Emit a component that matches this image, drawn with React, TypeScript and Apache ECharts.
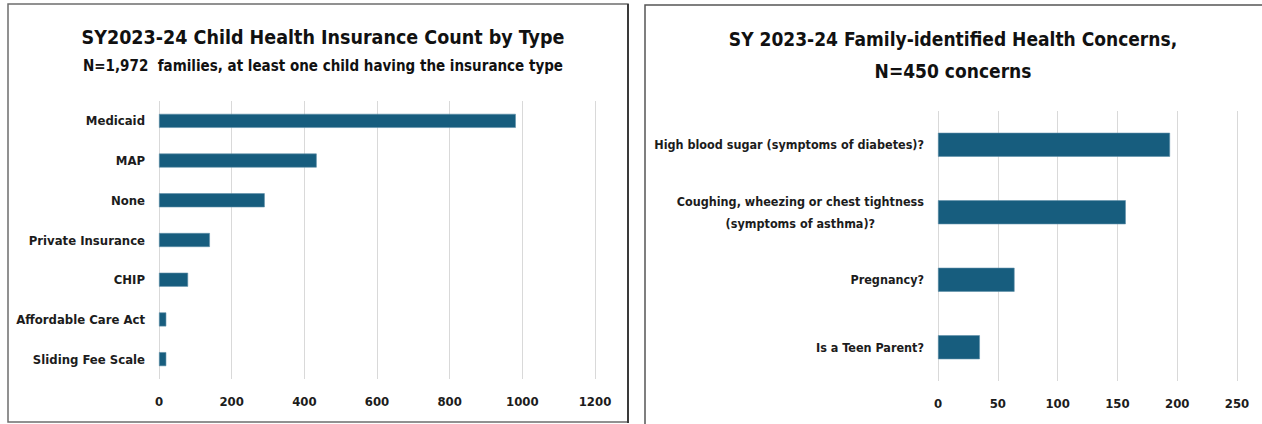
import React, { useEffect, useRef } from "react";
import * as echarts from "echarts";

const insuranceTypes = [
  "Medicaid",
  "MAP",
  "None",
  "Private Insurance",
  "CHIP",
  "Affordable Care Act",
  "Sliding Fee Scale",
];
const insuranceCounts = [982, 434, 291, 140, 80, 20, 20];
const insuranceTicks = [0, 200, 400, 600, 800, 1000, 1200];

const concernTypes = [
  "High blood sugar (symptoms of diabetes)?",
  "Coughing, wheezing or chest tightness\n(symptoms of asthma)?",
  "Pregnancy?",
  "Is a Teen Parent?",
];
const concernCounts = [194, 157, 64, 35];
const concernTicks = [0, 50, 100, 150, 200, 250];

const FONT = "'DejaVu Sans Condensed', 'Liberation Sans Narrow', 'Roboto', sans-serif";
const BAR = "#175d7e";
const TXT = "#1c1c1c";

export default function App() {
  const ref = useRef<HTMLDivElement>(null);
  useEffect(() => {
    if (!ref.current) return;
    const chart = echarts.init(ref.current, undefined, { renderer: "svg" });
    const labelStyle = {
      color: TXT,
      fontFamily: FONT,
      fontWeight: "bold" as const,
      fontSize: 13,
    };
    chart.setOption({
      animation: false,
      backgroundColor: "#ffffff",
      title: [
        {
          text: "SY2023-24 Child Health Insurance Count by Type",
          subtext: "N=1,972  families, at least one child having the insurance type",
          left: 318,
          top: 22,
          textAlign: "center",
          itemGap: 11,
          textStyle: { fontFamily: FONT, fontWeight: "bold", fontSize: 19.5, color: "#111" },
          subtextStyle: { fontFamily: FONT, fontWeight: "bold", fontSize: 15, color: "#111" },
        },
        {
          text: "SY 2023-24 Family-identified Health Concerns,\nN=450 concerns",
          left: 948,
          top: 18,
          textAlign: "center",
          textStyle: {
            fontFamily: FONT,
            fontWeight: "bold",
            fontSize: 19,
            color: "#111",
            lineHeight: 32,
          },
        },
      ],
      graphic: [
        {
          type: "rect",
          shape: { x: 8, y: 4, width: 620, height: 418 },
          style: { fill: "none", stroke: "#6e6e6e", lineWidth: 1.5 },
        },
        {
          type: "line",
          shape: { x1: 628, y1: 4, x2: 628, y2: 423 },
          style: { stroke: "#3a3a3a", lineWidth: 2 },
        },
        {
          type: "rect",
          shape: { x: 645, y: 5, width: 640, height: 430 },
          style: { fill: "none", stroke: "#555555", lineWidth: 1.5 },
        },
      ],
      grid: [
        { left: 159, top: 101, width: 436, height: 278, containLabel: false },
        { left: 938, top: 111, width: 299, height: 270, containLabel: false },
      ],
      xAxis: [
        {
          gridIndex: 0,
          type: "value",
          min: insuranceTicks[0],
          max: insuranceTicks[insuranceTicks.length - 1],
          interval: 200,
          axisLine: { show: false },
          axisTick: { show: false },
          axisLabel: { ...labelStyle, margin: 16, formatter: (v: number) => String(v) },
          splitLine: { lineStyle: { color: "#d9d9d9", width: 1 } },
        },
        {
          gridIndex: 1,
          type: "value",
          min: concernTicks[0],
          max: concernTicks[concernTicks.length - 1],
          interval: 50,
          axisLine: { show: false },
          axisTick: { show: false },
          axisLabel: { ...labelStyle, margin: 16, formatter: (v: number) => String(v) },
          splitLine: { lineStyle: { color: "#d9d9d9", width: 1 } },
        },
      ],
      yAxis: [
        {
          gridIndex: 0,
          type: "category",
          inverse: true,
          data: insuranceTypes,
          axisLine: { show: false },
          axisTick: { show: false },
          axisLabel: { ...labelStyle, margin: 14 },
        },
        {
          gridIndex: 1,
          type: "category",
          inverse: true,
          data: concernTypes,
          axisLine: { show: false },
          axisTick: { show: false },
          axisLabel: {
            ...labelStyle,
            fontSize: 12.5,
            margin: 14,
            lineHeight: 22,
            formatter: (v: string) =>
              v
                .split("\n")
                .map((s) => `{c|${s}}`)
                .join("\n"),
            rich: {
              c: {
                align: "center",
                color: TXT,
                fontFamily: FONT,
                fontWeight: "bold",
                fontSize: 12.5,
                lineHeight: 22,
              },
            },
          },
        },
      ],
      series: [
        {
          type: "bar",
          xAxisIndex: 0,
          yAxisIndex: 0,
          data: insuranceCounts,
          barWidth: 14,
          itemStyle: { color: BAR, borderColor: "#5e8fa8", borderWidth: 0.6 },
        },
        {
          type: "bar",
          xAxisIndex: 1,
          yAxisIndex: 1,
          data: concernCounts,
          barWidth: 24,
          itemStyle: { color: BAR, borderColor: "#5e8fa8", borderWidth: 0.6 },
        },
      ],
    });
    return () => chart.dispose();
  }, []);
  return (
    <div
      ref={ref}
      style={{ position: "fixed", left: 0, top: 0, width: 1262, height: 424 }}
    />
  );
}
